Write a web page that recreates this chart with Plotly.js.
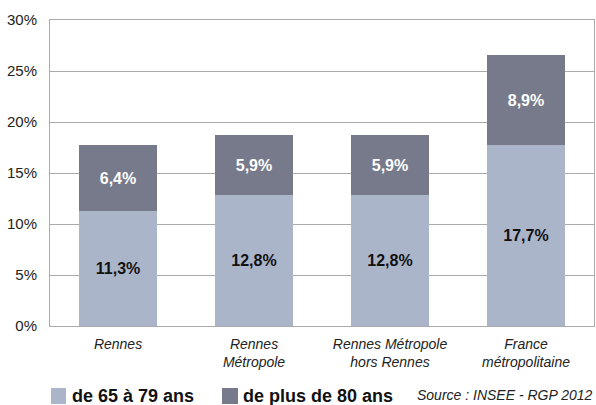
<!DOCTYPE html>
<html><head><meta charset="utf-8">
<script src="https://cdn.plot.ly/plotly-3.0.1.min.js"></script>
<style>body{margin:0;background:#fff}#c{width:596px;height:405px}</style>
</head><body><div id="c"></div>
<script>
const categories = ["Rennes", "Rennes<br>Métropole", "Rennes Métropole<br>hors Rennes", "France<br>métropolitaine"];
const age65to79 = [11.3, 12.8, 12.8, 17.7];
const age80plus = [6.4, 5.9, 5.9, 8.9];
const seriesNames = ["de 65 à 79 ans", "de plus de 80 ans"];
const seriesColors = ["#abb5ca", "#767a8b"];
const yTicks = [0, 5, 10, 15, 20, 25, 30];
const sourceText = "Source : INSEE - RGP 2012";
const fmt = v => v.toFixed(1).replace('.', ',') + '%';
const FONT = '"Liberation Sans", Arial, sans-serif';

// plot area in pixels
const L = 50, R = 2, T = 20, B = 79, W = 596, H = 405;
const pw = W - L - R, ph = H - T - B;
const px = x => (x - L) / pw;
const py = y => (H - B - y) / ph;

const traces = [
  {type:'bar', x:categories, y:age65to79, name:seriesNames[0],
   marker:{color:seriesColors[0]}, text:age65to79.map(fmt), textposition:'inside',
   insidetextanchor:'middle', textfont:{color:'#111', size:16, family:FONT, weight:'bold'}},
  {type:'bar', x:categories, y:age80plus, name:seriesNames[1],
   marker:{color:seriesColors[1]}, text:age80plus.map(fmt), textposition:'inside',
   insidetextanchor:'middle', textfont:{color:'#fff', size:16, family:FONT, weight:'bold'}}
];

const legendY = 396;
const shapes = [
  {type:'rect', xref:'paper', yref:'paper', x0:px(51), x1:px(66), y0:py(404), y1:py(388),
   fillcolor:seriesColors[0], line:{width:0}},
  {type:'rect', xref:'paper', yref:'paper', x0:px(222), x1:px(238), y0:py(404), y1:py(388),
   fillcolor:seriesColors[1], line:{width:0}}
];
const annotations = [
  {text:seriesNames[0], xref:'paper', yref:'paper', x:px(70), y:py(legendY), xanchor:'left', yanchor:'middle',
   showarrow:false, font:{size:18, weight:'bold', color:'#111'}},
  {text:seriesNames[1], xref:'paper', yref:'paper', x:px(241), y:py(legendY), xanchor:'left', yanchor:'middle',
   showarrow:false, font:{size:18, weight:'bold', color:'#111'}},
  {text:sourceText, xref:'paper', yref:'paper', x:px(595), y:py(legendY - 1), xanchor:'right', yanchor:'middle',
   showarrow:false, font:{size:14, style:'italic', color:'#222'}}
];

const layout = {
  width:W, height:H, barmode:'stack', bargap:0.42,
  margin:{l:L, r:R, t:T, b:B, pad:0, autoexpand:false},
  paper_bgcolor:'#fff', plot_bgcolor:'#fff',
  font:{family:FONT, color:'#222', size:15},
  showlegend:false,
  xaxis:{showline:true, mirror:true, linecolor:'#aaa', linewidth:1, ticks:'', ticklabelstandoff:5,
    tickfont:{size:14, style:'italic', color:'#222'}, fixedrange:true, automargin:false},
  yaxis:{range:[0,30], tickvals:yTicks, ticktext:yTicks.map(v=>v+'%'), showline:true, mirror:true,
    linecolor:'#aaa', gridcolor:'#aaa', gridwidth:1, zeroline:false, ticks:'', ticklabelstandoff:9,
    tickfont:{size:15, color:'#222'}, automargin:false},
  shapes, annotations
};
Plotly.newPlot('c', traces, layout, {displayModeBar:false, staticPlot:true});
</script></body></html>
